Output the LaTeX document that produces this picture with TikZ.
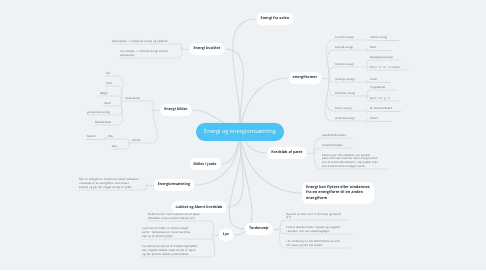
\documentclass[tikz,border=0pt]{standalone}
\usepackage{fontspec}
\setmainfont{Open Sans}
\usetikzlibrary{backgrounds}
\definecolor{bgc}{HTML}{EEF2F5}
\definecolor{linec}{HTML}{D2D9DF}
\definecolor{leaftext}{HTML}{5A5F63}
\definecolor{maintext}{HTML}{2E3236}
\definecolor{centerc}{HTML}{4CC2F5}
\begin{document}
\begin{tikzpicture}[x=1pt,y=1pt,
 conn/.style={draw=linec, line width=0.55pt},
 mconn/.style={draw=linec, line width=0.9pt},
 mainn/.style={fill=white, rounded corners=5pt, font=\bfseries\fontsize{3.7}{4.5}\selectfont, text=maintext, inner xsep=4pt, minimum height=12pt},
 centernode/.style={fill=centerc, text=white, rounded corners=9pt, minimum width=88pt, minimum height=18pt, font=\fontsize{5.6}{6.5}\selectfont},
 leaf/.style={font=\fontsize{2.7}{3.7}\selectfont, text=leaftext, inner xsep=1pt, inner ysep=1pt, align=left, anchor=south west, text width=#1},
 dot/.style={circle, draw=linec, fill=bgc, line width=0.5pt, minimum size=2.8pt, inner sep=0pt}]
\useasboundingbox (0,0) rectangle (486,270);

% centre and main topics
\node[centernode] (C) at (240,138) {Energi og energiomsætning};
\node[mainn] (solen) at (275,251) {Energi fra solen};
\node[mainn] (kvalitet) at (207,221) {Energi kvalitet};
\node[mainn] (energiformer) at (305,192) {energiformer};
\node[mainn] (kilder) at (176,160) {Energi kilder};
\node[mainn] (kredslob) at (287,117) {Kredsløb af pære};
\node[mainn, align=left, font=\bfseries\fontsize{3.8}{5.8}\selectfont, inner ysep=3pt] (flyttes) at (338,77) {Energi kan flyttes eller omdannes\\fra en energiform til en anden\\energiform};
\node[mainn] (joule) at (205,106) {Måles i joule};
\node[mainn] (omsaetning) at (174,85) {Energiomsætning};
\node[mainn] (lukket) at (199,63) {Lukket og åbent kredsløb};
\node[mainn] (lys) at (226,35) {Lys};
\node[mainn] (torden) at (259,41) {Tordenvejr};

% kvalitet
\node[dot] (dk) at (182,221) {};
\node[leaf=65pt] (kq1) at (111,226) {Høj kvalitet -{}-> mekanisk energi og elektrisk};
\node[leaf=57pt] (kq2) at (119,212) {Lav kvalitet -{}-> Termisk energi ved lav\\temperatur};

% kilder
\node[dot] (dki) at (153,160) {};
\node[leaf=26pt] (ved) at (124,169) {Vedvarende};
\node[dot] (dv) at (121.5,169) {};
\node[leaf=10pt] (sol) at (105,194) {Sol};
\node[leaf=10pt] (vind) at (105,184) {Vind};
\node[leaf=16pt] (bolger) at (99,174) {Bølger};
\node[leaf=12pt] (vand) at (103,164) {Vand};
\node[leaf=29pt] (geo) at (86,155) {geotermisk energi};
\node[leaf=21pt] (bio) at (94,145) {Biobrændsel};
\node[dot] (df) at (129,127) {};
\node[leaf=18pt] (fos) at (131,127) {Fossile};
\node[leaf=17pt] (olie) at (107,131) {Olie};
\node[leaf=14pt] (gas) at (111,121) {Gas};
\node[dot] (do) at (105,131) {};
\node[leaf=15pt] (benzin) at (86,131) {Benzin};

% energiomsaetning
\node[dot] (de) at (147,85) {};
\node[leaf=62pt] (oms1) at (78,80) {Når en energiform omdannes falder kvaliteten\\omsættes til en energiform med lavere\\kvalitet og går der meget energi til spilde};

% lys
\node[dot] (dl) at (213,35) {};
\node[leaf=61pt] (l1) at (147,49) {Elektronerne i den nederste del af skyen\\tiltrækkes af den positivt ladede jord};
\node[leaf=67pt] (l2) at (141,31) {Lynet kan få luften til at blive meget\\varmt. Temperaturen i lynet kan blive\\helt op til 30.000 grader};
\node[leaf=67pt] (l3) at (141,13) {Lyn dannes på grund af tiltrækningskræfter\\den negativt ladede nederste del af skyen\\og den positivt ladede jordoverflade.};

% tordenvejr
\node[dot] (dt) at (280,41) {};
\node[leaf=62pt] (t1) at (285,50) {Skyerne er mere end 10 km høje og består\\af is};
\node[leaf=66pt] (t2) at (285,36) {Positivt ladede findes i toppen og negativt\\i bunden. Der kan opstå kuglelyn.};
\node[leaf=62pt] (t3) at (285,22) {I en tordensky er der luftstrømme af varm\\luft opad og kold luft nedad.};

% kredslob
\node[dot] (dkr) at (314,117) {};
\node[leaf=30pt] (p1) at (321,132) {parallelforbindelse};
\node[leaf=30pt] (p2) at (321,122) {Serieforbindelse};
\node[leaf=66pt] (p3) at (321,101) {Pærer lyser ofte stærkest i en parallel\\pære fordi der kommer mere energi til den\\end til serieforbindelserne. Og slukker man\\kan dette komme hurtigere sandt};

% energiformer
\node[dot] (dE) at (329,192) {};
\node[leaf=29pt] (e1) at (334,230) {Termisk energi};
\node[leaf=29pt] (e2) at (334,220) {Kemisk energi};
\node[leaf=29pt] (e3) at (334,203) {Kinetisk energi};
\node[leaf=29pt] (e4) at (334,188) {Strålings energi};
\node[leaf=29pt] (e5) at (334,174) {Potentiel energi};
\node[leaf=29pt] (e6) at (334,159) {Kerne energi};
\node[leaf=29pt] (e7) at (334,149) {elektrisk energi};
\node[dot] (ge1) at (367,230) {};
\node[dot] (ge2) at (367,220) {};
\node[dot] (ge3) at (367,203) {};
\node[dot] (ge4) at (367,188) {};
\node[dot] (ge5) at (367,174) {};
\node[dot] (ge6) at (367,159) {};
\node[dot] (ge7) at (367,149) {};
\node[leaf=28pt] (g1) at (369,230) {Varme energi};
\node[leaf=20pt] (g2) at (369,220) {Mad};
\node[leaf=30pt] (g3a) at (369,210) {Bevægelsesenergi};
\node[leaf=38pt] (g3b) at (369,200) {Ekin = ½ · m · v² enhed};
\node[leaf=20pt] (g4) at (369,188) {Solen};
\node[leaf=26pt] (g5a) at (369,180) {Tyngdekraft};
\node[leaf=28pt] (g5b) at (369,169) {Epot = m · g · h};
\node[leaf=30pt] (g6) at (369,159) {Et atomkraftværk};
\node[leaf=20pt] (g7) at (369,149) {Strøm};

\begin{scope}[on background layer]
\fill[bgc] (0,0) rectangle (486,270);
% main connectors
\draw[mconn] (C) to[out=90,in=180] (solen.west);
\draw[mconn] (C) to[out=90,in=0] (kvalitet.east);
\draw[mconn] (C) to[out=80,in=180] (energiformer.west);
\draw[mconn] (C) to[out=150,in=0] (kilder.east);
\draw[mconn] (C) to[out=-60,in=180] (kredslob.west);
\draw[mconn] (C) to[out=-80,in=180] (flyttes.west);
\draw[mconn] (C) to[out=-100,in=0] (joule.east);
\draw[mconn] (C) to[out=-95,in=0] (omsaetning.east);
\draw[mconn] (C) to[out=-90,in=0] (lukket.east);
\draw[mconn] (C) to[out=-88,in=0] (lys.east);
\draw[mconn] (C) to[out=-85,in=180] (torden.west);
% kvalitet
\draw[conn] (kvalitet.west) -- (dk);
\draw[conn] (dk) to[out=90,in=0] (kq1.south east) -- (kq1.south west);
\draw[conn] (dk) to[out=-90,in=0] (kq2.south east) -- (kq2.south west);
% kilder
\draw[conn] (kilder.west) -- (dki);
\draw[conn] (dki) to[out=90,in=0] (ved.south east) -- (ved.south west) -- (dv);
\draw[conn] (dv) to[out=90,in=0] (sol.south east) -- (sol.south west);
\draw[conn] (dv) to[out=90,in=0] (vind.south east) -- (vind.south west);
\draw[conn] (dv) to[out=90,in=0] (bolger.south east) -- (bolger.south west);
\draw[conn] (dv) to[out=-90,in=0] (vand.south east) -- (vand.south west);
\draw[conn] (dv) to[out=-90,in=0] (geo.south east) -- (geo.south west);
\draw[conn] (dv) to[out=-90,in=0] (bio.south east) -- (bio.south west);
\draw[conn] (dki) to[out=-90,in=0] (fos.south east) -- (fos.south west) -- (df);
\draw[conn] (df) to[out=90,in=0] (olie.south east) -- (olie.south west) -- (do);
\draw[conn] (df) to[out=-90,in=0] (gas.south east) -- (gas.south west);
\draw[conn] (do) -- (benzin.south east) -- (benzin.south west);
% energiomsaetning
\draw[conn] (omsaetning.west) -- (de);
\draw[conn] (de) to[out=-90,in=0] (oms1.south east) -- (oms1.south west);
% lys
\draw[conn] (lys.west) -- (dl);
\draw[conn] (dl) to[out=90,in=0] (l1.south east) -- (l1.south west);
\draw[conn] (dl) to[out=-90,in=0] (l2.south east) -- (l2.south west);
\draw[conn] (dl) to[out=-90,in=0] (l3.south east) -- (l3.south west);
% tordenvejr
\draw[conn] (torden.east) -- (dt);
\draw[conn] (dt) to[out=90,in=180] (t1.south west) -- (t1.south east);
\draw[conn] (dt) to[out=-90,in=180] (t2.south west) -- (t2.south east);
\draw[conn] (dt) to[out=-90,in=180] (t3.south west) -- (t3.south east);
% kredslob
\draw[conn] (kredslob.east) -- (dkr);
\draw[conn] (dkr) to[out=90,in=180] (p1.south west) -- (p1.south east);
\draw[conn] (dkr) to[out=90,in=180] (p2.south west) -- (p2.south east);
\draw[conn] (dkr) to[out=-90,in=180] (p3.south west) -- (p3.south east);
% energiformer
\draw[conn] (energiformer.east) -- (dE);
\draw[conn] (dE) to[out=90,in=180] (e1.south west) -- (e1.south east) -- (ge1);
\draw[conn] (dE) to[out=90,in=180] (e2.south west) -- (e2.south east) -- (ge2);
\draw[conn] (dE) to[out=90,in=180] (e3.south west) -- (e3.south east) -- (ge3);
\draw[conn] (dE) to[out=-90,in=180] (e4.south west) -- (e4.south east) -- (ge4);
\draw[conn] (dE) to[out=-90,in=180] (e5.south west) -- (e5.south east) -- (ge5);
\draw[conn] (dE) to[out=-90,in=180] (e6.south west) -- (e6.south east) -- (ge6);
\draw[conn] (dE) to[out=-90,in=180] (e7.south west) -- (e7.south east) -- (ge7);
\draw[conn] (ge1) -- (g1.south west) -- (g1.south east);
\draw[conn] (ge2) -- (g2.south west) -- (g2.south east);
\draw[conn] (ge3) to[out=90,in=180] (g3a.south west) -- (g3a.south east);
\draw[conn] (ge3) to[out=-90,in=180] (g3b.south west) -- (g3b.south east);
\draw[conn] (ge4) -- (g4.south west) -- (g4.south east);
\draw[conn] (ge5) to[out=90,in=180] (g5a.south west) -- (g5a.south east);
\draw[conn] (ge5) to[out=-90,in=180] (g5b.south west) -- (g5b.south east);
\draw[conn] (ge6) -- (g6.south west) -- (g6.south east);
\draw[conn] (ge7) -- (g7.south west) -- (g7.south east);
\end{scope}
\end{tikzpicture}
\end{document}
